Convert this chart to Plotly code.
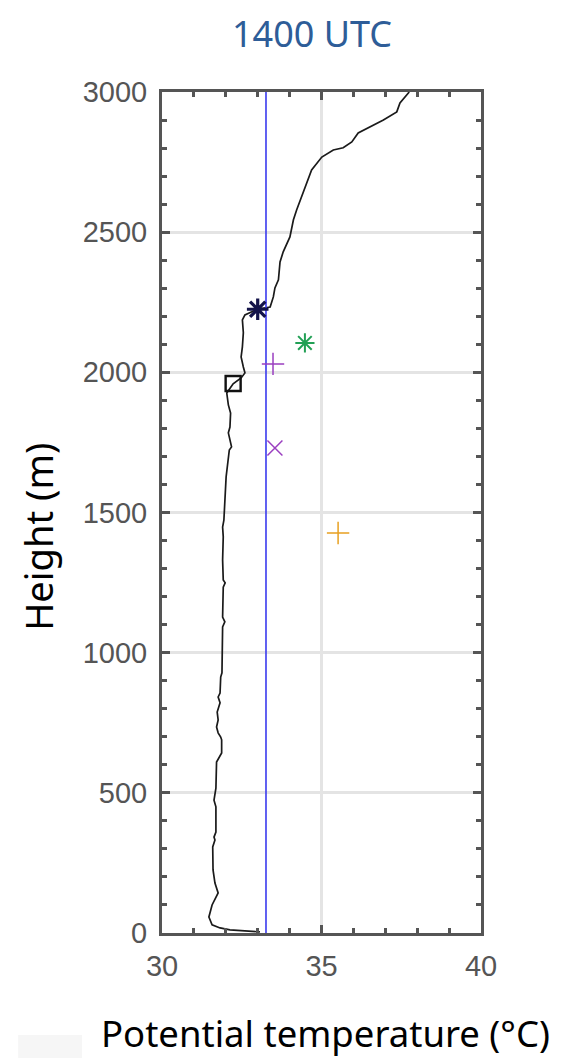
import plotly.graph_objects as go

# Potential temperature profile (°C) vs height (m)
profile_theta = [33.07, 32.13, 31.82, 31.57, 31.47, 31.57, 31.76, 31.66, 31.60, 31.59, 31.59, 31.66,
                 31.63, 31.69, 31.69, 31.63, 31.69, 31.71, 31.87, 31.87, 31.84, 31.76, 31.71, 31.76,
                 31.73, 31.82, 31.76, 31.82, 31.84, 31.88, 31.90, 31.97, 31.90, 31.92, 31.98, 31.92,
                 31.90, 31.92, 31.90, 31.94, 31.97, 32.01, 32.11, 32.18, 32.08, 32.13, 32.15, 32.08,
                 32.03, 32.23, 32.48, 32.60, 32.55, 32.48, 32.52, 32.55, 32.52, 32.60, 33.01, 33.39,
                 33.44, 33.49, 33.54, 33.65, 33.70, 33.80, 34.01, 34.12, 34.22, 34.38, 34.54, 34.69,
                 35.01, 35.37, 35.68, 35.95, 36.15, 36.62, 36.94, 37.36, 37.46, 37.75]
profile_height = [4, 11, 18, 29, 57, 100, 143, 178, 225, 260, 307, 332,
                  342, 360, 450, 474, 517, 610, 642, 689, 699, 714, 735, 760,
                  788, 821, 842, 856, 913, 928, 1092, 1110, 1127, 1234, 1249, 1259,
                  1331, 1413, 1448, 1473, 1545, 1627, 1723, 1734, 1784, 1805, 1855, 1884,
                  1926, 1959, 1980, 1998, 2019, 2055, 2091, 2141, 2187, 2205, 2226, 2233,
                  2251, 2269, 2301, 2330, 2394, 2430, 2483, 2544, 2579, 2626, 2676, 2722,
                  2768, 2793, 2801, 2822, 2854, 2883, 2900, 2929, 2961, 3000]

mixed_layer_theta = 33.26
height_range = [0, 3000]

# Marker points (theta, height)
marker_names = ["inversion", "bl_top", "green_star", "purple_plus", "purple_x", "orange_plus"]
marker_theta = [33.00, 32.23, 34.48, 33.48, 33.54, 35.52]
marker_height = [2225, 1960, 2105, 2030, 1730, 1427]
marker_symbols = ["asterisk-open", "square-open", "asterisk-open", "cross-thin-open", "x-thin-open", "cross-thin-open"]
marker_colors = ["#14144a", "#111111", "#22a055", "#9a3fc0", "#9a3fc0", "#e8a020"]
marker_sizes = [18, 15, 16, 16, 15, 16]
marker_widths = [3.2, 2.4, 2.0, 1.5, 1.5, 1.5]

fig = go.Figure()

fig.add_trace(go.Scatter(x=profile_theta, y=profile_height, mode="lines",
                         line=dict(color="#1a1a1a", width=1.7), showlegend=False,
                         hoverinfo="skip"))

fig.add_trace(go.Scatter(x=[mixed_layer_theta, mixed_layer_theta], y=height_range, mode="lines",
                         line=dict(color="#3a3aee", width=1.6), showlegend=False,
                         hoverinfo="skip"))

for n, xv, yv, s, c, sz, lw in zip(marker_names, marker_theta, marker_height, marker_symbols,
                                    marker_colors, marker_sizes, marker_widths):
    fig.add_trace(go.Scatter(x=[xv], y=[yv], mode="markers", name=n, showlegend=False,
                             marker=dict(symbol=s, size=sz, color=c,
                                         line=dict(color=c, width=lw))))

axis_common = dict(
    showgrid=True, gridcolor="#e4e4e4", gridwidth=3,
    showline=True, linecolor="#555555", linewidth=3, mirror="allticks",
    ticks="inside", ticklen=8, tickwidth=3, tickcolor="#555555",
    zeroline=False,
    tickfont=dict(family="Liberation Sans, Arial", size=29, color="#555555"),
)

fig.update_xaxes(range=[30, 40], tick0=30, dtick=5, ticklabelstandoff=5,
                 minor=dict(dtick=1, ticks="inside", ticklen=5, tickwidth=2.5,
                            tickcolor="#555555", showgrid=False),
                 **axis_common)
fig.update_yaxes(range=height_range, tick0=0, dtick=500, ticklabelstandoff=6,
                 minor=dict(dtick=100, ticks="inside", ticklen=5, tickwidth=2.5,
                            tickcolor="#555555", showgrid=False),
                 **axis_common)

fig.update_layout(
    width=554, height=1051,
    margin=dict(l=154, r=81, t=84, b=126),
    plot_bgcolor="white", paper_bgcolor="white",
    font=dict(family="Noto Sans", size=36, color="black"),
    annotations=[
        dict(text="1400 UTC", xref="paper", yref="paper", x=0.470, y=1.070,
             showarrow=False, xanchor="center", yanchor="middle",
             font=dict(family="Noto Sans", size=36, color="#2e5d98")),
        dict(text="Potential temperature (°C)", xref="paper", yref="paper", x=0.514, y=-0.119,
             showarrow=False, xanchor="center", yanchor="middle",
             font=dict(family="Noto Sans", size=36.5, color="black")),
        dict(text="Height (m)", xref="paper", yref="paper", x=-0.389, y=0.471,
             showarrow=False, xanchor="center", yanchor="middle", textangle=-90,
             font=dict(family="Noto Sans", size=38, color="black")),
    ],
    shapes=[dict(type="rect", xref="paper", yref="paper", x0=-0.451, x1=-0.251,
                 y0=-0.1486, y1=-0.1213, fillcolor="#f6f6f6", line=dict(width=0), layer="below")],
)

fig.write_html("out.html")
